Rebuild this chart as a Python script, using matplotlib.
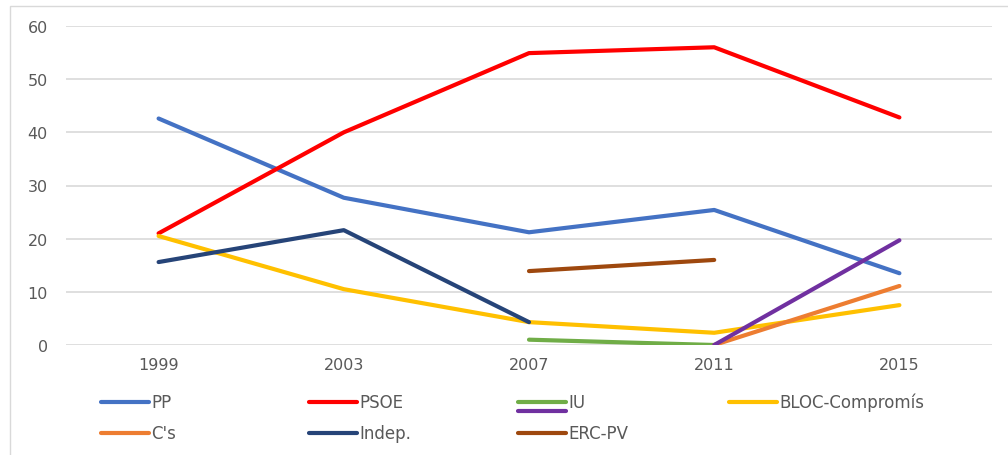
import numpy as np
import matplotlib
matplotlib.use('Agg')
import matplotlib.pyplot as plt
import matplotlib.lines as mlines
import matplotlib.patches as mpatches

plt.rcParams['font.family'] = ['DejaVu Sans']

# datos (escaños por año)
years = ['1999', '2003', '2007', '2011', '2015']
pp = [42.6, 27.7, 21.2, 25.4, 13.5]
psoe = [21.0, 40.0, 54.9, 56.0, 42.8]
iu = [np.nan, np.nan, 1.0, 0.0, np.nan]
bloc = [20.5, 10.5, 4.3, 2.3, 7.5]
cs = [np.nan, np.nan, np.nan, 0.0, 11.1]
indep = [15.6, 21.6, 4.3, np.nan, np.nan]
erc = [np.nan, np.nan, 13.9, 16.0, np.nan]
otro = [np.nan, np.nan, np.nan, 0.0, 19.7]

names = ['PP', 'PSOE', 'IU', 'BLOC-Compromís', "C's", 'Indep.', 'ERC-PV', '']
series = [pp, psoe, iu, bloc, cs, indep, erc, otro]
colors = ['#4472C4', '#FF0000', '#70AD47', '#FFC000', '#ED7D31', '#264478', '#9E480E', '#7030A0']

W, H = 1008, 456
fig = plt.figure(figsize=(W/100, H/100), dpi=100)
ax = fig.add_axes([66/W, 1-346/H, 926/W, 319/H])

x = np.arange(len(years))
for vals, c in zip(series, colors):
    ax.plot(x, vals, color=c, lw=3, solid_capstyle='round', zorder=3)

ax.set_xlim(-0.5, len(years)-0.5)
ax.set_ylim(0, 60)
ax.set_yticks(range(0, 61, 10))
ax.set_xticks(x)
ax.set_xticklabels(years)
ax.grid(axis='y', color='#D9D9D9', lw=1.2)
ax.set_axisbelow(True)
for s in ax.spines.values():
    s.set_visible(False)
ax.tick_params(length=0, labelsize=11.5, labelcolor='#595959')
ax.tick_params(axis='x', pad=9)
ax.tick_params(axis='y', pad=13)

# leyenda a mano, 4 columnas
col_x = [101, 309, 518, 729]
row_y = [403, 434]
for i, (n, c) in enumerate(zip(names[:7], colors[:7])):
    cx = col_x[i % 4]
    cy = row_y[i // 4]
    fig.add_artist(mlines.Line2D([cx/W, (cx+48)/W], [1-cy/H, 1-cy/H],
                                 color=c, lw=3, solid_capstyle='round'))
    fig.text((cx+50)/W, 1-cy/H, n, fontsize=12, color='#595959', va='center')
# serie sin nombre, queda debajo de IU
fig.add_artist(mlines.Line2D([col_x[2]/W, (col_x[2]+48)/W], [1-412/H, 1-412/H],
                             color=colors[7], lw=3, solid_capstyle='round'))

# marco del gráfico
fig.add_artist(mpatches.Rectangle((10/W, -0.1), 1.2, 1.1-7/H, fill=False,
                                  edgecolor='#D9D9D9', lw=1))

fig.savefig('out.png', dpi=100)
